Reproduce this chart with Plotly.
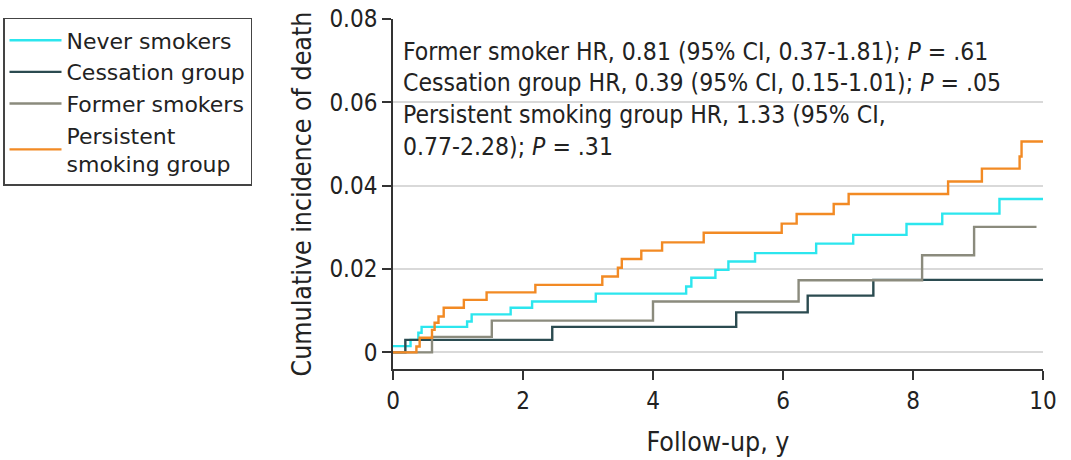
import plotly.graph_objects as go

# ---- data ----
never_t = [0, 0.27, 0.39, 0.44, 1.14, 1.21, 1.81, 2.14, 3.12, 4.51, 4.59, 4.96, 5.16, 5.57, 6.51, 7.08, 7.90, 8.45, 9.33, 10.0]
never_y = [0.0015, 0.0030, 0.0047, 0.0061, 0.0074, 0.0091, 0.0107, 0.0122, 0.0141, 0.0158, 0.0179, 0.0198, 0.0218, 0.0238, 0.0261, 0.0282, 0.0308, 0.0333, 0.0368, 0.0368]

cess_t = [0, 0.19, 2.45, 5.28, 6.38, 7.39, 10.0]
cess_y = [0, 0.0030, 0.0061, 0.0096, 0.0136, 0.0174, 0.0174]

former_t = [0, 0.60, 1.52, 4.00, 6.24, 8.14, 8.94, 9.90]
former_y = [0, 0.0037, 0.0076, 0.0122, 0.0173, 0.0233, 0.0301, 0.0301]

persist_t = [0, 0.36, 0.41, 0.60, 0.64, 0.70, 0.78, 1.09, 1.44, 2.19, 3.22, 3.46, 3.52, 3.82, 4.14, 4.78, 5.98, 6.21, 6.78, 7.01, 8.54, 9.06, 9.64, 9.67, 10.0]
persist_y = [0, 0.0014, 0.0035, 0.0054, 0.0071, 0.0086, 0.0107, 0.0126, 0.0144, 0.0162, 0.0182, 0.0203, 0.0224, 0.0244, 0.0264, 0.0287, 0.0309, 0.0332, 0.0356, 0.0380, 0.0410, 0.0441, 0.0470, 0.0506, 0.0506]

series_names = ["Never smokers", "Cessation group", "Former smokers", "Persistent<br>smoking group"]
series_colors = ["#2CE6EE", "#2B4B50", "#8B8B7D", "#F28A24"]

x_tickvals = [0, 2, 4, 6, 8, 10]
x_ticktext = ["0", "2", "4", "6", "8", "10"]
y_tickvals = [0, 0.02, 0.04, 0.06, 0.08]
y_ticktext = ["0", "0.02", "0.04", "0.06", "0.08"]

annot_lines = [
    "Former smoker HR, 0.81 (95% CI, 0.37-1.81); <i>P</i> = .61",
    "Cessation group HR, 0.39 (95% CI, 0.15-1.01); <i>P</i> = .05",
    "Persistent smoking group HR, 1.33 (95% CI,",
    "0.77-2.28); <i>P</i> = .31",
]
annot_y = [0.0722, 0.0647, 0.0570, 0.0493]

FONT = "DejaVu Sans Condensed, DejaVu Sans, sans-serif"
LEG_FONT = "DejaVu Sans, sans-serif"
TXT = "#222222"

fig = go.Figure()
for t, y, name, col in zip([never_t, cess_t, former_t, persist_t],
                           [never_y, cess_y, former_y, persist_y],
                           series_names, series_colors):
    fig.add_trace(go.Scatter(x=t, y=y, mode="lines", name=name,
                             line=dict(color=col, width=2.4, shape="hv")))

for txt, yy in zip(annot_lines, annot_y):
    fig.add_annotation(x=0.13, y=yy, xref="x", yref="y", text=txt,
                       showarrow=False, xanchor="left", yanchor="middle",
                       font=dict(family=FONT, size=24.5, color=TXT))

fig.update_layout(
    width=1071, height=460,
    margin=dict(l=392.5, r=28, t=19, b=91, autoexpand=False),
    paper_bgcolor="white", plot_bgcolor="white",
    font=dict(family=FONT, size=24, color=TXT),
    showlegend=True,
    legend=dict(x=-0.6, y=1.003, xanchor="left", yanchor="top",
                bordercolor="#444444", borderwidth=1.5,
                font=dict(family=LEG_FONT, size=22, color=TXT),
                itemwidth=52, tracegroupgap=0, bgcolor="white"),
    xaxis=dict(range=[0, 10], tickvals=x_tickvals, ticktext=x_ticktext,
               showgrid=False, zeroline=False, showline=True,
               linecolor="#333333", linewidth=1.5,
               ticks="outside", ticklen=9, tickwidth=1.5, tickcolor="#333333",
               tickfont=dict(family=FONT, size=24, color=TXT),
               title=dict(text="Follow-up, y", standoff=19,
                          font=dict(family=FONT, size=26.5, color=TXT))),
    yaxis=dict(range=[-0.004, 0.08], tickvals=y_tickvals, ticktext=y_ticktext,
               showgrid=True, gridcolor="#D9D9D9", gridwidth=1.5,
               zeroline=False, showline=True,
               linecolor="#333333", linewidth=1.5,
               ticks="outside", ticklen=9, tickwidth=1.5, tickcolor="#333333",
               tickfont=dict(family=FONT, size=24, color=TXT),
               title=dict(text="Cumulative incidence of death", standoff=10,
                          font=dict(family=FONT, size=26.5, color=TXT))),
)

fig.write_html("out.html", config={"displayModeBar": False},
               post_script="document.body.style.margin='0';")
